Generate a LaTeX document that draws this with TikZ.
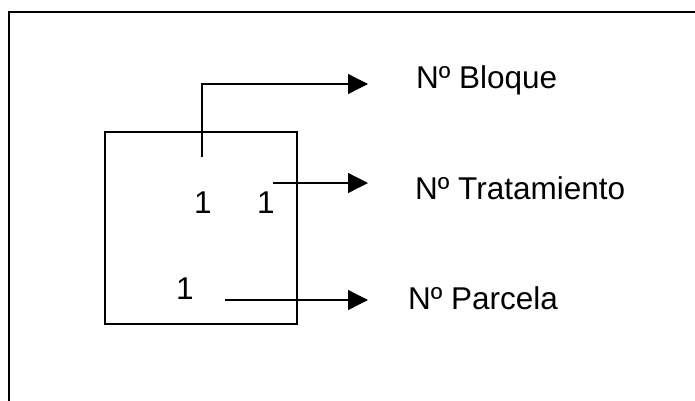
\documentclass[tikz,border=0pt]{standalone}
\usepackage{fontspec}
\setmainfont{Liberation Sans}
\usetikzlibrary{arrows.meta}
\tikzset{
  lbl/.style={anchor=base west,inner sep=0pt,font=\fontsize{31.5}{36}\selectfont},
  num/.style={anchor=base,inner sep=0pt,font=\fontsize{31.5}{36}\selectfont},
  conn/.style={line width=1.3pt,-{Triangle[length=20pt,width=20pt]}},
}
\begin{document}
\begin{tikzpicture}[x=1pt,y=-1pt]
\useasboundingbox (0,0) rectangle (695,400);
\clip (0,0) rectangle (695,400);
\draw[line width=2pt] (9,12) rectangle (720,430);
\node[draw,line width=1.3pt,minimum width=192pt,minimum height=192pt,inner sep=0pt] (sq) at (201,228) {};
\node[num] (n1) at (203,213) {1};
\node[num] (n2) at (266,213) {1};
\node[num] (n3) at (185,299) {1};
\node[lbl] (bloque) at (416,88) {Nº Bloque};
\node[lbl] (trat) at (415,199) {Nº Tratamiento};
\node[lbl] (parc) at (408,309) {Nº Parcela};
\coordinate (sb) at (202,157);
\coordinate (eb) at (368,84);
\coordinate (st) at (273,183);
\coordinate (et) at (368,183);
\coordinate (sp) at (225,300);
\coordinate (ep) at (368,300);
\draw[conn] (sb) |- (eb);
\draw[conn] (st) -- (et);
\draw[conn] (sp) -- (ep);
\end{tikzpicture}
\end{document}
